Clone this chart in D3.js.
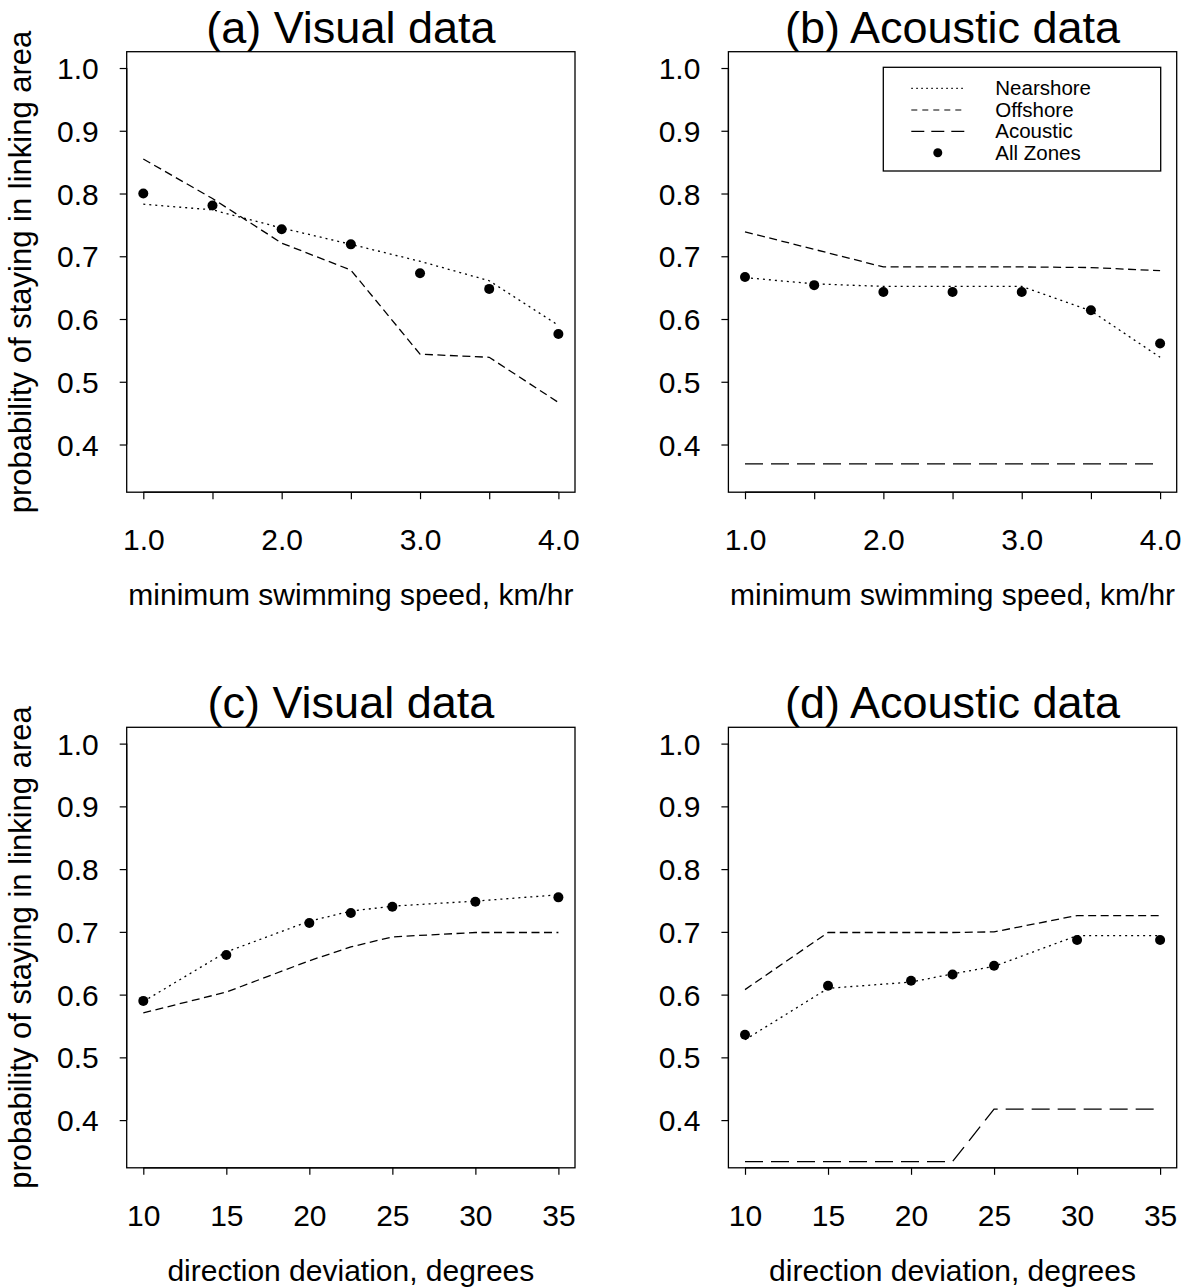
<!DOCTYPE html>
<html>
<head>
<meta charset="utf-8">
<script src="https://cdn.jsdelivr.net/npm/d3@7"></script>
<style>
  html, body { margin: 0; padding: 0; background: #fff; }
  svg { display: block; }
  text { font-family: "Liberation Sans", Arial, Helvetica, sans-serif; fill: #000; }
</style>
</head>
<body>
<svg id="chart" width="1190" height="1287"></svg>
<script>
// ---------- data ----------
const speedX = [1.0, 1.5, 2.0, 2.5, 3.0, 3.5, 4.0];
const speedTicks = [1.0, 1.5, 2.0, 2.5, 3.0, 3.5, 4.0];
const speedTickLabels = ["1.0", "", "2.0", "", "3.0", "", "4.0"];
const dirX = [10, 15, 20, 22.5, 25, 30, 35];
const dirTicks = [10, 15, 20, 25, 30, 35];
const dirTickLabels = ["10", "15", "20", "25", "30", "35"];
const yTicks = [0.4, 0.5, 0.6, 0.7, 0.8, 0.9, 1.0];
const yTickLabels = ["0.4", "0.5", "0.6", "0.7", "0.8", "0.9", "1.0"];

// (a) visual data, swimming speed
const visSpeedNear = [0.783, 0.774, 0.745, 0.719, 0.692, 0.661, 0.590];
const visSpeedOff  = [0.855, 0.792, 0.721, 0.678, 0.544, 0.539, 0.467];
const visSpeedAll  = [0.800, 0.781, 0.743, 0.719, 0.673, 0.648, 0.576];
// (b) acoustic data, swimming speed
const acSpeedNear = [0.666, 0.656, 0.652, 0.652, 0.652, 0.613, 0.539];
const acSpeedOff  = [0.739, 0.711, 0.683, 0.683, 0.683, 0.682, 0.677];
const acSpeedAc   = [0.369, 0.369, 0.369, 0.369, 0.369, 0.369, 0.369];
const acSpeedAll  = [0.667, 0.654, 0.643, 0.643, 0.643, 0.614, 0.561];
// (c) visual data, direction deviation
const visDirNear = [0.589, 0.668, 0.717, 0.733, 0.741, 0.749, 0.759];
const visDirOff  = [0.571, 0.604, 0.654, 0.676, 0.692, 0.699, 0.699];
const visDirAll  = [0.590, 0.663, 0.714, 0.730, 0.740, 0.748, 0.755];
// (d) acoustic data, direction deviation
const acDirNear = [0.528, 0.610, 0.620, 0.633, 0.645, 0.694, 0.694];
const acDirOff  = [0.608, 0.699, 0.699, 0.699, 0.700, 0.726, 0.726];
const acDirAc   = [0.334, 0.334, 0.334, 0.334, 0.4175, 0.4175, 0.4175];
const acDirAll  = [0.536, 0.614, 0.622, 0.632, 0.646, 0.687, 0.687];

const legendLabels = ["Nearshore", "Offshore", "Acoustic", "All Zones"];

// ---------- styles ----------
const STYLE = {
  near: "2,4",
  off: "8,4.5",
  ac: "18,8"
};

const svg = d3.select("#chart");

const panels = [
  { title: "(a) Visual data", x: speedX, ticks: speedTicks, tickLabels: speedTickLabels,
    xlim: [1, 4], near: visSpeedNear, off: visSpeedOff, ac: null, all: visSpeedAll,
    xlab: "minimum swimming speed, km/hr", ylab: true, left: 126.7, top: 51.7, legend: false },
  { title: "(b) Acoustic data", x: speedX, ticks: speedTicks, tickLabels: speedTickLabels,
    xlim: [1, 4], near: acSpeedNear, off: acSpeedOff, ac: acSpeedAc, all: acSpeedAll,
    xlab: "minimum swimming speed, km/hr", ylab: false, left: 728.4, top: 51.7, legend: true },
  { title: "(c) Visual data", x: dirX, ticks: dirTicks, tickLabels: dirTickLabels,
    xlim: [10, 35], near: visDirNear, off: visDirOff, ac: null, all: visDirAll,
    xlab: "direction deviation, degrees", ylab: true, left: 126.7, top: 727.3, legend: false },
  { title: "(d) Acoustic data", x: dirX, ticks: dirTicks, tickLabels: dirTickLabels,
    xlim: [10, 35], near: acDirNear, off: acDirOff, ac: acDirAc, all: acDirAll,
    xlab: "direction deviation, degrees", ylab: false, left: 728.4, top: 727.3, legend: false }
];

const W = 448.3, H = 440.5;
const ylim = [0.35, 1.0];
const ext = (lim) => { const d = (lim[1] - lim[0]) * 0.04; return [lim[0] - d, lim[1] + d]; };

const FS = 30;   // axis font size
const TFS = 45;  // title font size

panels.forEach(p => {
  const g = svg.append("g").attr("transform", `translate(${p.left},${p.top})`);
  const x = d3.scaleLinear().domain(ext(p.xlim)).range([0, W]);
  const y = d3.scaleLinear().domain(ext(ylim)).range([H, 0]);

  // box
  g.append("rect").attr("x", 0).attr("y", 0).attr("width", W).attr("height", H)
    .attr("fill", "none").attr("stroke", "#000").attr("stroke-width", 1.3);

  // x axis
  const xAxis = d3.axisBottom(x).tickValues(p.ticks).tickSize(7)
    .tickFormat((d, i) => p.tickLabels[i]);
  const gx = g.append("g").attr("transform", `translate(0,${H})`).call(xAxis);
  gx.select(".domain").attr("d", `M${x(p.ticks[0])},0H${x(p.ticks[p.ticks.length - 1])}`)
    .attr("stroke", "#000").attr("stroke-width", 1.3);
  gx.selectAll(".tick line").attr("stroke", "#000").attr("stroke-width", 1.2);
  gx.selectAll(".tick text").attr("font-size", FS).attr("dy", null).attr("y", 58)
    .attr("font-family", "Liberation Sans, Arial, sans-serif");

  // y axis
  const yAxis = d3.axisLeft(y).tickValues(yTicks).tickSize(7)
    .tickFormat((d, i) => yTickLabels[i]);
  const gy = g.append("g").call(yAxis);
  gy.select(".domain").attr("d", `M0,${y(yTicks[0])}V${y(yTicks[yTicks.length - 1])}`)
    .attr("stroke", "#000").attr("stroke-width", 1.3);
  gy.selectAll(".tick line").attr("stroke", "#000").attr("stroke-width", 1.2);
  gy.selectAll(".tick text").attr("font-size", FS).attr("x", -28).attr("dy", "0.35em")
    .attr("font-family", "Liberation Sans, Arial, sans-serif");

  // title
  g.append("text").attr("x", W / 2).attr("y", -9).attr("text-anchor", "middle")
    .attr("font-size", TFS).text(p.title);

  // x label
  g.append("text").attr("x", W / 2).attr("y", H + 113).attr("text-anchor", "middle")
    .attr("font-size", FS).text(p.xlab);

  // y label
  if (p.ylab) {
    g.append("text").attr("transform", `translate(${-96},${H / 2}) rotate(-90)`)
      .attr("text-anchor", "middle").attr("font-size", 31)
      .text("probability of staying in linking area");
  }

  const line = d3.line().x((d, i) => x(p.x[i])).y(d => y(d));
  const drawLine = (vals, dash) => {
    g.append("path").datum(vals).attr("d", line).attr("fill", "none")
      .attr("stroke", "#000").attr("stroke-width", 1.3).attr("stroke-dasharray", dash);
  };
  drawLine(p.near, STYLE.near);
  drawLine(p.off, STYLE.off);
  if (p.ac) drawLine(p.ac, STYLE.ac);

  g.selectAll("circle.pt").data(p.all).enter().append("circle").attr("class", "pt")
    .attr("cx", (d, i) => x(p.x[i])).attr("cy", d => y(d)).attr("r", 5).attr("fill", "#000");

  if (p.legend) {
    const lx = 883.3 - p.left, ly = 67.3 - p.top;
    const lg = g.append("g").attr("transform", `translate(${lx},${ly})`);
    lg.append("rect").attr("x", 0).attr("y", 0).attr("width", 277.4).attr("height", 103.7)
      .attr("fill", "#fff").attr("stroke", "#000").attr("stroke-width", 1.3);
    const rows = [21, 42.7, 64, 85.5];
    const dashes = ["1.5,3.5", "6,5", "13,7", null];
    legendLabels.forEach((lab, i) => {
      if (dashes[i]) {
        lg.append("line").attr("x1", 28).attr("x2", 82).attr("y1", rows[i]).attr("y2", rows[i])
          .attr("stroke", "#000").attr("stroke-width", 1.2).attr("stroke-dasharray", dashes[i]);
      } else {
        lg.append("circle").attr("cx", 54.5).attr("cy", rows[i]).attr("r", 4.5).attr("fill", "#000");
      }
      lg.append("text").attr("x", 112).attr("y", rows[i]).attr("dy", "0.35em")
        .attr("font-size", 20.5).text(lab);
    });
  }
});
</script>
</body>
</html>
